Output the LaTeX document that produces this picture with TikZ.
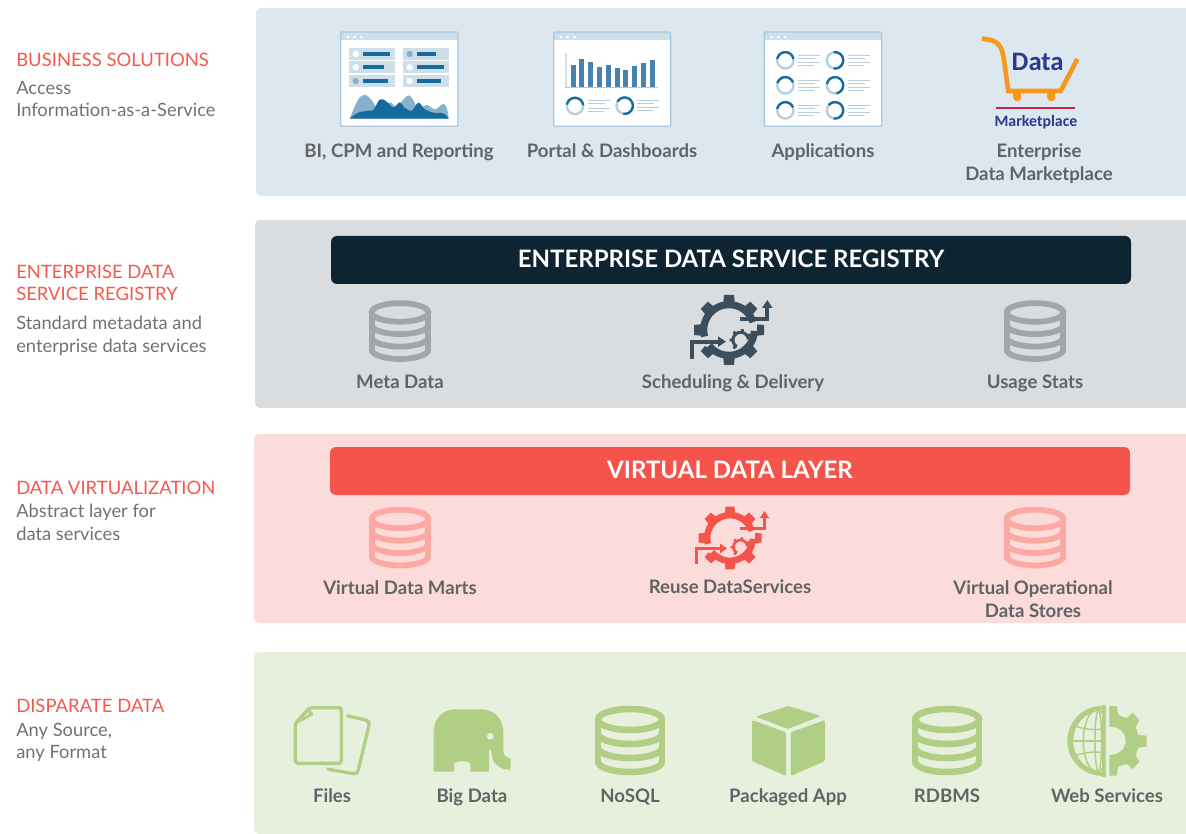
\documentclass[tikz,border=0pt]{standalone}
\usepackage{fontspec}
\setmainfont{Lato}
\newfontfamily\cartfont{Carlito}
\definecolor{bandblue}{HTML}{DCE7EF}
\definecolor{bandgray}{HTML}{D9DDE0}
\definecolor{bandred}{HTML}{FBDCDA}
\definecolor{bandgreen}{HTML}{E7F0DC}
\definecolor{navy}{HTML}{0F2433}
\definecolor{redbar}{HTML}{F4544B}
\definecolor{headred}{HTML}{F4584F}
\definecolor{txtgray}{HTML}{6F7173}
\definecolor{lblgray}{HTML}{616365}
\definecolor{dbgray}{HTML}{A0A7AC}
\definecolor{geardark}{HTML}{3B4E5E}
\definecolor{dbred}{HTML}{FCA9A3}
\definecolor{icongreen}{HTML}{B0CF84}
\definecolor{winborder}{HTML}{A9C8DE}
\definecolor{wintitle}{HTML}{CFDFE9}
\definecolor{winbar}{HTML}{156A9E}
\definecolor{winmid}{HTML}{4783AC}
\definecolor{winlight}{HTML}{B5CFE0}
\definecolor{winsoft}{HTML}{85B1CC}
\definecolor{cartorange}{HTML}{F7981D}
\definecolor{cartblue}{HTML}{2B3990}
\definecolor{cartred}{HTML}{C8283F}
\tikzset{
  headtxt/.style={anchor=base west,inner sep=0pt,text=headred,font=\fontsize{13.85}{16}\selectfont},
  subtxt/.style={anchor=base west,inner sep=0pt,text=txtgray,font=\fontsize{13.75}{16}\selectfont},
  lbl/.style={anchor=base,inner sep=0pt,text=lblgray,font=\fontsize{13.95}{16}\selectfont\bfseries},
  bartxt/.style={anchor=center,inner sep=0pt,text=white,font=\fontsize{18}{20}\selectfont\bfseries},
  barbox/.style={rounded corners=4.5pt},
  band/.style={rounded corners=3.5pt}
}
% database icon: centre x, centre y, scale, colour
\newcommand{\dbicon}[4]{%
\begin{scope}[shift={(#1,#2)},scale=#3,draw=#4,line width=#3*4.9pt,line cap=butt]
  \draw (-32,-21.5) .. controls (-32,-27.3) and (-17.6,-32) .. (0,-32) .. controls (17.6,-32) and (32,-27.3) .. (32,-21.5) .. controls (32,-15.7) and (17.6,-11) .. (0,-11) .. controls (-17.6,-11) and (-32,-15.7) .. (-32,-21.5) -- cycle;
  \draw (-32,-21.5) -- (-32,21);
  \draw (32,-21.5) -- (32,21);
  \draw (-32,-7.5) .. controls (-32,-1.7) and (-17.6,3) .. (0,3) .. controls (17.6,3) and (32,-1.7) .. (32,-7.5);
  \draw (-32,6.5) .. controls (-32,12.3) and (-17.6,17) .. (0,17) .. controls (17.6,17) and (32,12.3) .. (32,6.5);
  \draw (-32,20.5) .. controls (-32,26.3) and (-17.6,31) .. (0,31) .. controls (17.6,31) and (32,26.3) .. (32,20.5);
\end{scope}}
% gear icon: centre x, centre y, scale, colour
\newcommand{\gearicon}[4]{%
\begin{scope}[shift={(#1,#2)},scale=#3/3,draw=#4,fill=#4]
  \draw[line width=#3*5.4pt] plot[domain=18:195,samples=40] ({76*cos(\x)},{-76*sin(\x)});
  \draw[line width=#3*5.4pt] plot[domain=218:358,samples=40] ({76*cos(\x)},{-76*sin(\x)});
  \foreach \a in {0,45,90,135,225,270,315,180}{
    \fill[rotate=\a] (-17,-84) -- (-15,-105) -- (15,-105) -- (17,-84) -- cycle;
  }
  \draw[line width=#3*2.3pt] plot[domain=5:240,samples=30] ({35+23*cos(\x)},{30-23*sin(\x)});
  \foreach \a in {30,80,130,180,230}{
    \fill[shift={(35,30)},rotate=\a-90] (-5,-24) -- (-4,-33) -- (4,-33) -- (5,-24) -- cycle;
  }
  \draw[line width=#3*3pt,-{Triangle[length=#3*6pt,width=#3*7.5pt]}] (-112,87) -- (-112,35) -- (-9,35);
  \draw[line width=#3*3pt,-{Triangle[length=#3*6pt,width=#3*7.5pt]}] (33,-32) -- (115,-32) -- (115,-90);
\end{scope}}
% window frame, in zoom coordinates
\newcommand{\winframe}[4]{%
  \fill[white] (#1,#2) rectangle (#3,#4);
  \fill[wintitle] (#1,#2) rectangle (#3,#2+25);
  \foreach \d in {22,42,62}{\fill[white] (#1+\d,#2+15) circle (4.5);}
  \draw[winborder,line width=0.95pt,rounded corners=1pt] (#1,#2) rectangle (#3,#4);
}
\newcommand{\donut}[4]{%
  \draw[winlight,line width=1.75pt] (#1,#2) circle (24.5);
  \draw[winbar,line width=1.75pt] plot[domain=#3:#4,samples=30] ({#1+24.5*cos(\x)},{#2-24.5*sin(\x)});
  \foreach \o/\e in {-16/66,-7/51,6/66,15/48}{
    \draw[winlight,line width=0.65pt] (#1+38,#2+\o) -- (#1+38+\e,#2+\o);
  }
}
\newcommand{\wrow}[5]{%
  \fill[wintitle] (#1,#2) rectangle (#1+138,#2+36);
  \fill[#4] (#1+20,#2+18) circle (9.5);
  \fill[winbar] (#1+42,#2+12) rectangle (#1+42+#3,#2+24);
}
\usetikzlibrary{arrows.meta}
\begin{document}
\begin{tikzpicture}[x=0.75pt,y=-0.75pt]
\useasboundingbox (0,0) rectangle (1186,834);
% bands
\fill[bandblue,band] (1186,8) [rounded corners=3.5pt] -- (256,8) -- (256,196) [sharp corners] -- (1186,196) -- cycle;
\fill[bandgray,band] (1186,220) [rounded corners=3.5pt] -- (255,220) -- (255,408) [sharp corners] -- (1186,408) -- cycle;
\fill[bandred,band] (1186,434) [rounded corners=3.5pt] -- (254,434) -- (254,623) [sharp corners] -- (1186,623) -- cycle;
\fill[bandgreen,band] (1186,652) [rounded corners=3.5pt] -- (254,652) -- (254,834) [sharp corners] -- (1186,834) -- cycle;
% left texts
\node[headtxt] (h1) at (16,67) {BUSINESS SOLUTIONS};
\node[subtxt] (s1a) at (16,95) {Access};
\node[subtxt] (s1b) at (16,117) {Information-as-a-Service};
\node[headtxt] (h2a) at (16,279) {ENTERPRISE DATA};
\node[headtxt] (h2b) at (16,301) {SERVICE REGISTRY};
\node[subtxt] (s2a) at (16,330) {Standard metadata and};
\node[subtxt] (s2b) at (16,353) {enterprise data services};
\node[headtxt] (h3) at (16,494) {DATA VIRTUALIZATION};
\node[subtxt] (s3a) at (16,517) {Abstract layer for};
\node[subtxt] (s3b) at (16,540) {data services};
\node[headtxt] (h4) at (16,712) {DISPARATE DATA};
\node[subtxt] (s4a) at (16,736) {Any Source,};
\node[subtxt] (s4b) at (16,758) {any Format};
% bars
\fill[navy,barbox] (331,236) rectangle (1131,284);
\node[bartxt] (b1) at (731,258.5) {ENTERPRISE DATA SERVICE REGISTRY};
\fill[redbar,barbox] (330,447) rectangle (1130,495);
\node[bartxt] (b2) at (730,470) {VIRTUAL DATA LAYER};
% window icons, first zoom
\begin{scope}[shift={(330,20)},scale=1/3]
  \winframe{32}{36}{384}{319}
  \wrow{57}{84}{81}{white}{}
  \wrow{57}{124}{63}{white}{}
  \wrow{57}{165}{75}{winsoft}{}
  \wrow{219}{84}{57}{winsoft}{}
  \wrow{219}{124}{81}{white}{}
  \wrow{219}{165}{72}{white}{}
  \fill[winsoft] plot[smooth,tension=0.6] coordinates {(59,296) (85,238) (105,225) (125,240) (140,262) (160,258) (180,247) (200,262) (215,245) (235,226) (250,240) (265,268) (290,255) (315,268) (340,252) (352,270) (356,296)} -- cycle;
  \fill[winbar] plot[smooth,tension=0.6] coordinates {(59,296) (85,278) (115,272) (130,270) (150,238) (170,245) (190,262) (210,247) (222,262) (245,272) (265,248) (285,268) (310,278) (340,280) (356,296)} -- cycle;
  \winframe{671}{36}{1022}{319}
  \fill[wintitle] (705,100) rectangle (710,203);
  \fill[winborder] (705,201) rectangle (984,204);
  \foreach \x/\t in {723/135,747/117,774/126,801/141,828/135,855/144,879/150,906/138,933/129,960/120}{
    \fill[winmid] (\x,\t) rectangle (\x+15,201);
  }
  \donut{735}{258}{170}{5}
  \donut{884}{257}{150}{-100}
\end{scope}
\begin{scope}[shift={(750,20)},scale=1/3]
  \winframe{43}{36}{395}{319}
  \donut{106}{121}{170}{10}
  \donut{255}{121}{100}{-100}
  \donut{106}{196}{165}{20}
  \donut{255}{196}{170}{-80}
  \donut{106}{271}{170}{20}
  \donut{255}{271}{140}{-100}
  % cart
  \fill[cartorange] (790,215) rectangle (814,232);
  \fill[cartorange] (802,232) circle (12);
  \fill[cartorange] (892,215) rectangle (916,232);
  \fill[cartorange] (904,232) circle (12);
  \draw[cartorange,line width=3.5pt] (695,56) .. controls (745,60) and (755,75) .. (762,120) -- (775,213) -- (932,213) -- (982,117);
  \draw[cartred,line width=0.85pt] (739,264) -- (975,264);
  \node[anchor=base,inner sep=0pt,text=cartblue,font=\fontsize{20}{22}\cartfont\bfseries] (cartdata) at (863,152) {Data};
  \node[anchor=base,inner sep=0pt,text=cartblue,font=\fontsize{11.9}{13}\cartfont\bfseries] (cartmkt) at (858,319) {Marketplace};
\end{scope}
% icon labels, top
\node[lbl] (l1) at (399,157.5) {BI, CPM and Reporting};
\node[lbl] (l2) at (612,157.5) {Portal \& Dashboards};
\node[lbl] (l3) at (823,157.5) {Applications};
\node[lbl] (l4a) at (1039,157.5) {Enterprise};
\node[lbl] (l4b) at (1039,180.5) {Data Marketplace};
% registry
\dbicon{400}{331.5}{0.886}{dbgray}
\dbicon{1035}{331.5}{0.886}{dbgray}
\gearicon{729}{330}{1}{geardark}
\node[lbl] (l5) at (400,389) {Meta Data};
\node[lbl] (l6) at (733,389) {Scheduling \& Delivery};
\node[lbl] (l7) at (1035,389) {Usage Stats};
% virtual
\dbicon{400}{538}{0.886}{dbred}
\dbicon{1035}{538}{0.886}{dbred}
\gearicon{730}{538}{0.9}{redbar}
\node[lbl] (l8) at (400,594) {Virtual Data Marts};
\node[lbl] (l9) at (730,593) {Reuse DataServices};
\node[lbl] (l10a) at (1033,594) {Virtual Operational};
\node[lbl] (l10b) at (1033,617) {Data Stores};
% data sources
\dbicon{630}{741}{1}{icongreen}
\dbicon{947}{741}{1}{icongreen}
\begin{scope}[shift={(280,695)},scale=1/3]
  % files
  \draw[icongreen,line width=2.5pt,rounded corners=2pt,line join=round] (90,38) -- (184,38) -- (184,205) -- (46,205) -- (46,85) -- cycle;
  \draw[icongreen,line width=2pt,line join=round] (46,85) -- (96,57) -- (80,40);
  \draw[icongreen,line width=2.5pt,rounded corners=3pt] (200,62) -- (270,78) -- (232,238) -- (140,222);
  % elephant
  \fill[icongreen] (461,230) -- (461,110) .. controls (461,70) and (490,43) .. (525,43) -- (605,43) .. controls (645,43) and (670,75) .. (670,110) -- (670,165) .. controls (670,180) and (678,189) .. (692,190) -- (692,224) .. controls (655,224) and (634,205) .. (634,165) -- (627,165) -- (627,230) -- (571,230) -- (571,205) .. controls (555,196) and (538,196) .. (522,205) -- (522,230) -- cycle;
  \fill[bandgreen] (631,124) circle (10);
\end{scope}
\begin{scope}[shift={(740,695)},scale=1/3]
  % cube
  \fill[icongreen,rounded corners=1pt] (145,33) -- (243,63) -- (143,102) -- (47,65) -- cycle;
  \fill[icongreen,rounded corners=1pt] (36,75) -- (138,112) -- (138,243) -- (36,198) -- cycle;
  \fill[icongreen,rounded corners=1pt] (152,112) -- (255,75) -- (255,198) -- (152,243) -- cycle;
  % globe
  \begin{scope}
    \clip (970,20) rectangle (1097,250);
    \fill[icongreen] (1087,137.5) circle (105);
    \fill[bandgreen] (1092,137.5) circle (92);
    \draw[icongreen,line width=1.1pt] (1070,137.5) ellipse (40 and 92);
    \draw[icongreen,line width=1.1pt] (1075,137.5) ellipse (10 and 92);
    \draw[icongreen,line width=1.1pt] (990,137.5) -- (1097,137.5);
    \draw[icongreen,line width=1.1pt] (1005,92) .. controls (1035,105) and (1065,105) .. (1097,102);
    \draw[icongreen,line width=1.1pt] (1005,183) .. controls (1035,170) and (1065,170) .. (1097,173);
    \fill[icongreen] (1085,30) rectangle (1097,245);
  \end{scope}
  \fill[icongreen] (1108,33) -- (1130,33) -- (1135,60) -- (1160,70) -- (1178,53) -- (1198,75) -- (1187,97) -- (1195,120) -- (1220,122) -- (1220,155) -- (1195,158) -- (1187,180) -- (1198,200) -- (1178,222) -- (1160,207) -- (1135,215) -- (1130,242) -- (1108,242) -- (1108,180) .. controls (1140,180) and (1157,160) .. (1157,137) .. controls (1157,115) and (1140,95) .. (1108,95) -- cycle;
\end{scope}
\node[lbl] (l11) at (332,802) {Files};
\node[lbl] (l12) at (472,802) {Big Data};
\node[lbl] (l13) at (630,802) {NoSQL};
\node[lbl] (l14) at (788,802) {Packaged App};
\node[lbl] (l15) at (947,802) {RDBMS};
\node[lbl] (l16) at (1107,802) {Web Services};
\end{tikzpicture}
\end{document}
